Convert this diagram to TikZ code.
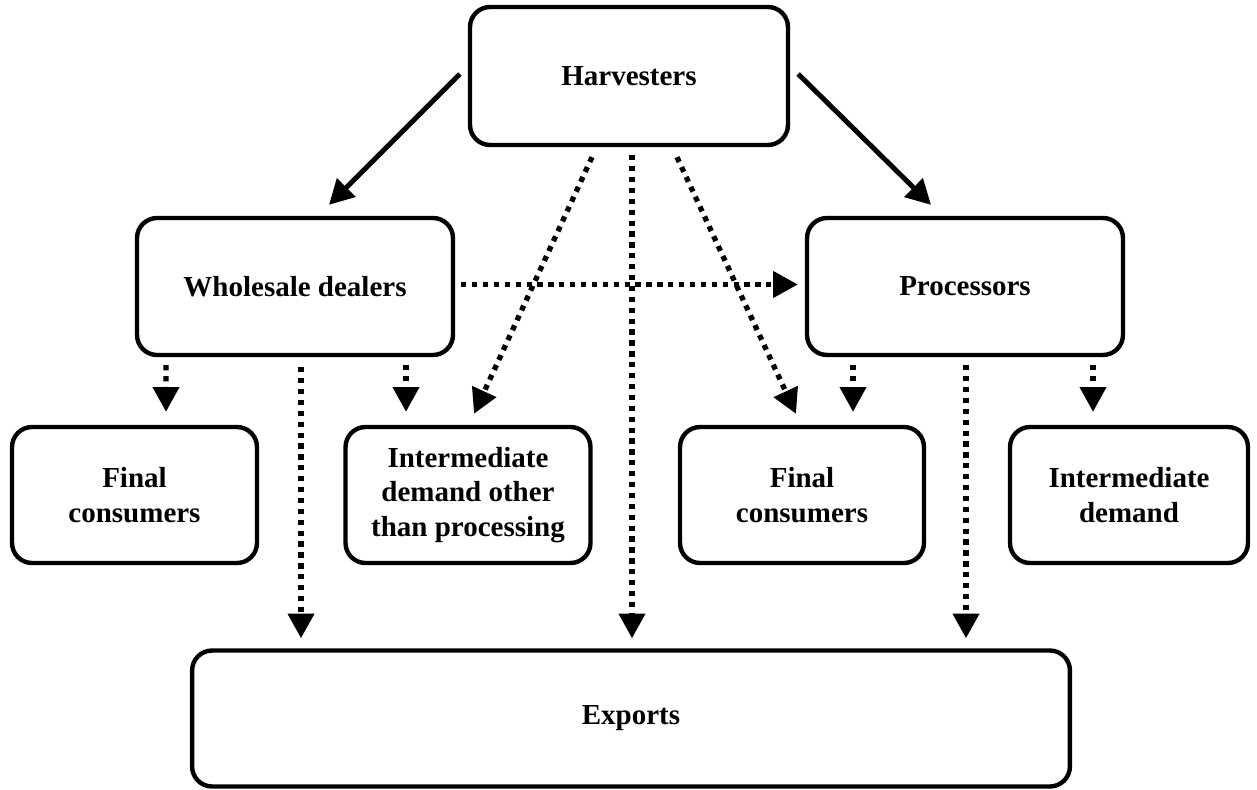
\documentclass[tikz,border=0pt]{standalone}
\usepackage{fontspec}
\setmainfont{Liberation Serif}
\usetikzlibrary{arrows.meta,calc}

\begin{document}
\begin{tikzpicture}[x=0.02cm,y=-0.02cm,
    box/.style={rectangle,draw,line width=2.5pt,rounded corners=0.4cm,
      align=center,font=\fontsize{16.5}{19.6}\selectfont\bfseries,
      minimum height=2.74cm},
    flow/.style={line width=2.8pt,-{Triangle[length=14pt,width=14.5pt]}},
    side/.style={flow,line width=3pt,dash pattern=on 3pt off 3.2pt}]
  \useasboundingbox (0,0) rectangle (1257,790);

  \node[box,minimum width=6.36cm,minimum height=2.76cm] (harv) at (629,76) {Harvesters};
  \node[box,minimum width=6.32cm] (whole) at (295,286.5) {Wholesale dealers};
  \node[box,minimum width=6.32cm] (proc) at (965,286.5) {Processors};
  \node[box,minimum width=4.9cm,minimum height=2.72cm] (fcl) at (134.5,495) {Final\\consumers};
  \node[box,minimum width=4.9cm,minimum height=2.72cm] (idop) at (468,495) {Intermediate\\demand other\\than processing};
  \node[box,minimum width=4.88cm,minimum height=2.72cm] (fcm) at (802,495) {Final\\consumers};
  \node[box,minimum width=4.76cm,minimum height=2.72cm] (idem) at (1129,495) {Intermediate\\demand};
  \node[box,minimum width=17.56cm,minimum height=2.72cm] (expo) at (631,718.5) {Exports};

  \draw[flow] ($(harv.west)+(-8,-2)$) -- ($(whole.north)+(34,-11)$); % solid
  \draw[flow] ($(harv.east)+(8,-2)$) -- ($(proc.north)+(-34,-11)$);

  \draw[side] ($(whole.east)+(6,-2)$) -- ($(proc.west)+(-7,-2)$); % dotted
  \draw[side] ($(harv.south)+(-37,10)$) -- ($(idop.north)+(6,-11)$);
  \draw[side] ($(harv.south)+(3,8)$) -- ($(expo.north)+(1,-10)$);
  \draw[side] ($(harv.south)+(48,10)$) -- ($(fcm.north)+(-6,-11)$);

  \draw[side] ($(whole.south)+(-129,8)$) -- ($(fcl.north)+(31.5,-13)$);
  \draw[side] ($(whole.south)+(6,10)$) -- ($(expo.north)+(-330,-10)$);
  \draw[side] ($(whole.south)+(111,8)$) -- ($(idop.north)+(-62,-13)$);

  \draw[side] ($(proc.south)+(-112,8)$) -- ($(fcm.north)+(51,-13)$);
  \draw[side] ($(proc.south)+(1,8)$) -- ($(expo.north)+(335,-10)$);
  \draw[side] ($(proc.south)+(128,8)$) -- ($(idem.north)+(-36,-13)$);
\end{tikzpicture}
\end{document}
